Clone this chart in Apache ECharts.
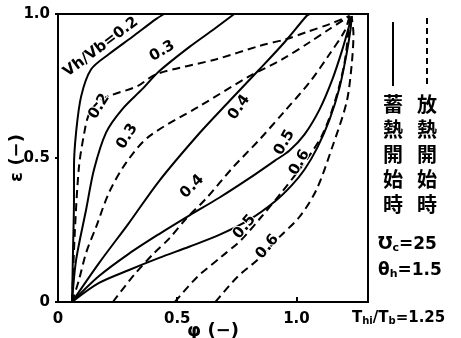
<!DOCTYPE html>
<html><head><meta charset="utf-8">
<script src="https://cdn.jsdelivr.net/npm/echarts@6/dist/echarts.min.js"></script>
<style>html,body{margin:0;padding:0;background:#fff}#c{width:461px;height:338px}</style>
</head><body><div id="c"></div>
<script>
// axis ticks
const xTicks = [0, 0.5, 1.0];
const yTicks = [0, 0.5, 1.0];

// solid lines (蓄熱開始時): [phi, xi]
const solid02 = [[0.059,0],[0.063,0.18],[0.067,0.355],[0.067,0.47],[0.076,0.59],[0.097,0.714],[0.139,0.808],[0.214,0.861],[0.311,0.92],[0.412,0.983],[0.445,1.0]];
const solid03 = [[0.059,0],[0.076,0.146],[0.118,0.321],[0.151,0.46],[0.202,0.589],[0.269,0.669],[0.353,0.739],[0.424,0.801],[0.55,0.885],[0.655,0.948],[0.739,1.0]];
const solid04 = [[0.059,0],[0.172,0.135],[0.298,0.275],[0.424,0.42],[0.592,0.585],[0.718,0.697],[0.845,0.808],[0.95,0.902],[1.042,0.993],[1.055,1.0]];
const solid05 = [[0.059,0],[0.172,0.09],[0.298,0.168],[0.424,0.236],[0.55,0.3],[0.676,0.362],[0.803,0.43],[0.908,0.49],[0.971,0.526],[1.034,0.582],[1.097,0.669],[1.151,0.774],[1.193,0.878],[1.223,0.965],[1.231,0.993]];
const solid06 = [[0.059,0],[0.172,0.066],[0.298,0.111],[0.424,0.153],[0.55,0.192],[0.676,0.233],[0.803,0.286],[0.908,0.348],[0.979,0.404],[1.034,0.46],[1.088,0.537],[1.139,0.634],[1.181,0.746],[1.21,0.861],[1.227,0.948],[1.231,0.993]];

// dashed lines (放熱開始時)
const dashed02 = [[0.059,0],[0.071,0.251],[0.088,0.47],[0.109,0.582],[0.13,0.652],[0.172,0.697],[0.223,0.718],[0.332,0.749],[0.412,0.791],[0.664,0.843],[0.845,0.889],[0.958,0.913],[1.042,0.937],[1.139,0.965],[1.223,0.993]];
const dashed03 = [[0.059,0],[0.088,0.077],[0.118,0.171],[0.16,0.261],[0.214,0.38],[0.286,0.484],[0.382,0.575],[0.592,0.679],[0.803,0.784],[0.941,0.843],[1.055,0.902],[1.139,0.948],[1.223,0.993]];
const dashed04 = [[0.23,0],[0.319,0.094],[0.403,0.17],[0.466,0.22],[0.538,0.29],[0.622,0.36],[0.731,0.465],[0.845,0.564],[0.95,0.662],[1.055,0.763],[1.139,0.861],[1.202,0.941],[1.223,0.993]];
const dashed05 = [[0.49,0],[0.584,0.087],[0.685,0.157],[0.769,0.216],[0.853,0.296],[0.937,0.38],[1.021,0.47],[1.105,0.575],[1.16,0.693],[1.202,0.833],[1.223,0.983]];
const dashed06 = [[0.66,0],[0.752,0.087],[0.836,0.146],[0.929,0.226],[1.013,0.296],[1.084,0.39],[1.151,0.54],[1.21,0.693],[1.231,0.819],[1.239,0.93],[1.231,0.993]];

// curve annotations
const labelTexts = ['Vh/Vb=0.2','0.2','0.3','0.3','0.4','0.4','0.5','0.6','0.5','0.6'];
const labelAt = [[0.18,0.885],[0.173,0.679],[0.437,0.871],[0.29,0.575],[0.76,0.676],[0.563,0.401],[0.95,0.554],[1.013,0.484],[0.782,0.261],[0.878,0.192]];
const labelAngle = [37,58,30,58,55,45,60,60,50,50];

const FONT = 'DejaVu Sans';
const chart = echarts.init(document.getElementById('c'));

function lineSeries(data, dashed){
  return {type:'line', data:data, showSymbol:false, smooth:0.3, silent:true,
    lineStyle:{color:'#000', width:2, type: dashed ? [8,5] : 'solid'}};
}

const series = [
  lineSeries(solid02,false), lineSeries(solid03,false), lineSeries(solid04,false),
  lineSeries(solid05,false), lineSeries(solid06,false),
  lineSeries(dashed02,true), lineSeries(dashed03,true), lineSeries(dashed04,true),
  lineSeries(dashed05,true), lineSeries(dashed06,true),
  {type:'scatter', symbolSize:0, silent:true, z:5, itemStyle:{opacity:1},
   data: labelAt.map((p,i)=>({value:p, label:{show:true, position:'inside', rotate:labelAngle[i], formatter:labelTexts[i],
     color:'#000', fontFamily:FONT, fontWeight:'bold', fontSize:15, textBorderColor:'#fff', textBorderWidth:2}}))}
];

chart.setOption({
  animation:false,
  backgroundColor:'#fff',
  grid:{left:58, top:14, right:93, bottom:36, show:true, borderColor:'#000', borderWidth:2, containLabel:false, outerBoundsMode:'none'},
  xAxis:{type:'value', min:0, max:1.3, interval:0.5,
    name:'φ (−)', nameLocation:'middle', nameGap:20, nameMoveOverlap:false,
    nameTextStyle:{color:'#000', fontFamily:FONT, fontWeight:'bold', fontSize:18},
    axisLine:{show:true, lineStyle:{color:'#000', width:2}},
    axisTick:{show:true, inside:true, length:5, lineStyle:{color:'#000', width:2}},
    splitLine:{show:false},
    axisLabel:{color:'#000', fontFamily:FONT, fontWeight:'bold', fontSize:15, margin:10, showMaxLabel:false,
      formatter:v=> xTicks.indexOf(v)<0 ? '' : (v===0?'0':v.toFixed(1))}},
  yAxis:{type:'value', min:0, max:1, interval:0.5,
    name:'ε (−)', nameLocation:'middle', nameGap:32, nameRotate:90, nameMoveOverlap:false,
    nameTextStyle:{color:'#000', fontFamily:FONT, fontWeight:'bold', fontSize:18},
    axisLine:{show:true, lineStyle:{color:'#000', width:2}},
    axisTick:{show:true, length:3, lineStyle:{color:'#000', width:2}},
    splitLine:{show:false},
    axisLabel:{color:'#000', fontFamily:FONT, fontWeight:'bold', fontSize:15, margin:8,
      formatter:v=> yTicks.indexOf(v)<0 ? '' : (v===0?'0':v.toFixed(1))}},
  graphic:[
    {type:'line', shape:{x1:393,y1:22,x2:393,y2:86}, style:{stroke:'#000', lineWidth:2}},
    {type:'line', shape:{x1:427,y1:18,x2:427,y2:86}, style:{stroke:'#000', lineWidth:2, lineDash:[6,4]}},
    {type:'text', left:383, top:92, style:{text:'蓄\n熱\n開\n始\n時', font:'bold 20px "Noto Sans CJK JP"', lineHeight:25, fill:'#000'}},
    {type:'text', left:417, top:92, style:{text:'放\n熱\n開\n始\n時', font:'bold 20px "Noto Sans CJK JP"', lineHeight:25, fill:'#000'}},
    {type:'text', left:378, top:236, style:{rich:{a:{fontFamily:FONT,fontWeight:'bold',fontSize:17,fill:'#000'},s:{fontFamily:FONT,fontWeight:'bold',fontSize:11,fill:'#000',padding:[8,0,0,0]}}, text:'{a|Ʊ}{s|c}{a|=25}'}},
    {type:'text', left:378, top:262, style:{rich:{a:{fontFamily:FONT,fontWeight:'bold',fontSize:17,fill:'#000'},s:{fontFamily:FONT,fontWeight:'bold',fontSize:11,fill:'#000',padding:[8,0,0,0]}}, text:'{a|θ}{s|h}{a|=1.5}'}},
    {type:'text', left:352, top:311, style:{rich:{a:{fontFamily:FONT,fontWeight:'bold',fontSize:15,fill:'#000'},s:{fontFamily:FONT,fontWeight:'bold',fontSize:10,fill:'#000',padding:[6,0,0,0]}}, text:'{a|T}{s|hi}{a|/T}{s|b}{a|=1.25}'}}
  ],
  series:series
});
</script></body></html>
